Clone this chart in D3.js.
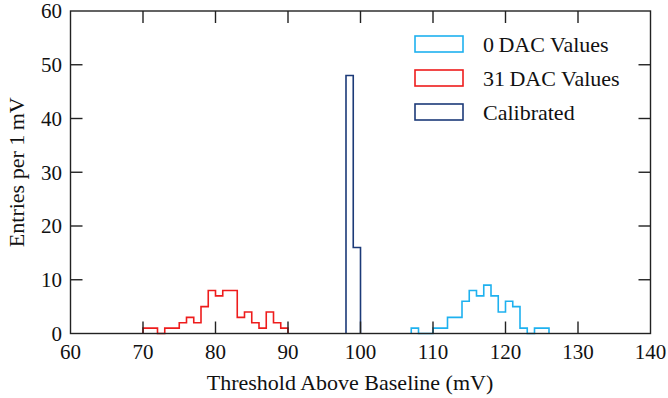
<!DOCTYPE html>
<html>
<head>
<meta charset="utf-8">
<script src="https://cdn.jsdelivr.net/npm/d3@7"></script>
<style>
  body { margin: 0; background: #fff; }
  svg text { font-family: "Liberation Serif", "DejaVu Serif", serif; fill: #111; }
</style>
</head>
<body>
<svg id="chart" width="668" height="398"></svg>
<script>
// Data: 1 mV bins, value = entries in [start, start+1)
const redStart = 70;   // 31 DAC Values
const redCounts = [1,1,0,1,1,2,3,2,5,8,7,8,8,3,4,2,1,4,2,1];
const cyanStart = 107; // 0 DAC Values
const cyanCounts = [1,0,0,1,1,3,3,6,8,7,9,7,4,6,5,1,0,1,1];
const calStart = 98;   // Calibrated
const calCounts = [48,16];
const xTicks = [60,70,80,90,100,110,120,130,140];
const yTicks = [0,10,20,30,40,50,60];
const seriesNames = ["0\u2009DAC Values", "31\u2009DAC Values", "Calibrated"];
const seriesColors = ["#1eb1ef", "#ee1c1c", "#1c3a78"];

const svg = d3.select("#chart");
const L = 70.5, R = 650.5, T = 11, B = 333.5;
const x = d3.scaleLinear().domain([60,140]).range([L,R]);
const y = d3.scaleLinear().domain([0,60]).range([B,T]);
const tickLen = 12;

// histogram outlines
function stepPts(start, counts) {
  const pts = [[start, 0]];
  counts.forEach((c,i) => { pts.push([start+i, c]); pts.push([start+i+1, c]); });
  pts.push([start+counts.length, 0]);
  return pts;
}
const line = d3.line().x(d => x(d[0])).y(d => y(d[1]));
const hists = [
  {start: cyanStart, counts: cyanCounts, color: seriesColors[0]},
  {start: redStart, counts: redCounts, color: seriesColors[1]},
  {start: calStart, counts: calCounts, color: seriesColors[2]}
];
hists.forEach(h => {
  svg.append("path").attr("d", line(stepPts(h.start, h.counts)))
    .attr("fill","none").attr("stroke", h.color).attr("stroke-width",1.6)
    .attr("stroke-linejoin","miter");
});

// frame and ticks
const axisColor = "#222";
const g = svg.append("g").attr("stroke", axisColor).attr("stroke-width", 1.4).attr("fill","none");
xTicks.slice(1,-1).forEach(t => {
  g.append("line").attr("x1",x(t)).attr("x2",x(t)).attr("y1",B).attr("y2",B-tickLen);
  g.append("line").attr("x1",x(t)).attr("x2",x(t)).attr("y1",T).attr("y2",T+tickLen);
});
yTicks.slice(1,-1).forEach(t => {
  g.append("line").attr("x1",L).attr("x2",L+tickLen).attr("y1",y(t)).attr("y2",y(t));
  g.append("line").attr("x1",R).attr("x2",R-tickLen).attr("y1",y(t)).attr("y2",y(t));
});
g.append("rect").attr("x",L).attr("y",T).attr("width",R-L).attr("height",B-T);

// tick labels
const fs = 21, fs2 = 22;
svg.append("g").selectAll("text").data(xTicks).join("text")
  .attr("x", d => x(d)).attr("y", 359).attr("text-anchor","middle")
  .attr("font-size", fs).text(d => d);
svg.append("g").selectAll("text").data(yTicks).join("text")
  .attr("x", 62).attr("y", d => y(d)).attr("dy","0.35em").attr("text-anchor","end")
  .attr("font-size", fs).text(d => d);

// axis titles
svg.append("text").attr("x", 350).attr("y", 390).attr("text-anchor","middle")
  .attr("font-size", fs2).text("Threshold Above Baseline (mV)");
svg.append("text").attr("transform", `translate(24,${(T+B)/2}) rotate(-90)`)
  .attr("text-anchor","middle").attr("font-size", fs2).text("Entries per 1\u2009mV");

// legend
const legY = [44, 78, 112];
seriesNames.forEach((n,i) => {
  svg.append("rect").attr("x",415).attr("y",legY[i]-8).attr("width",48).attr("height",16)
    .attr("fill","#fff").attr("stroke",seriesColors[i]).attr("stroke-width",1.6);
  svg.append("text").attr("x",483).attr("y",legY[i]+8).attr("font-size",fs2).text(n);
});
</script>
</body>
</html>
